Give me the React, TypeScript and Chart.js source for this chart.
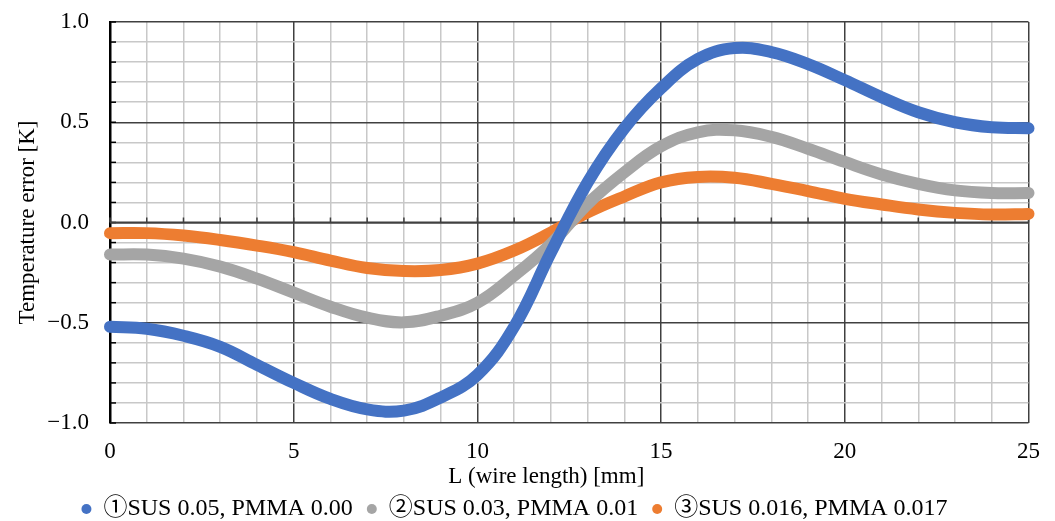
import React, { useEffect, useRef } from 'react';
import { Chart, registerables } from 'chart.js';

Chart.register(...registerables);

// ---- data ----
const xValues = [0, 1, 2, 3, 4, 5, 6, 7, 8, 9, 10, 11, 12, 13, 14, 15, 16, 17, 18, 19, 20, 21, 22, 23, 24, 25];

const series1 = [-0.52, -0.53, -0.565, -0.62, -0.71, -0.8, -0.88, -0.932, -0.938, -0.873, -0.76, -0.52, -0.15, 0.2, 0.47, 0.67, 0.815, 0.87, 0.85, 0.79, 0.71, 0.625, 0.55, 0.5, 0.475, 0.47];
const series2 = [-0.16, -0.16, -0.18, -0.22, -0.28, -0.35, -0.42, -0.475, -0.498, -0.465, -0.4, -0.265, -0.107, 0.093, 0.25, 0.38, 0.45, 0.46, 0.427, 0.368, 0.302, 0.24, 0.193, 0.16, 0.147, 0.147];
const series3 = [-0.053, -0.053, -0.065, -0.087, -0.115, -0.148, -0.19, -0.227, -0.242, -0.237, -0.205, -0.14, -0.05, 0.05, 0.13, 0.2, 0.227, 0.223, 0.193, 0.157, 0.118, 0.09, 0.065, 0.048, 0.04, 0.043];

const seriesNames = ['①SUS 0.05, PMMA 0.00', '②SUS 0.03, PMMA 0.01', '③SUS 0.016, PMMA 0.017'];
const seriesColors = ['#4472C4', '#A5A5A5', '#ED7D31'];

const xTickValues = [0, 5, 10, 15, 20, 25];
const xTickLabels = ['0', '5', '10', '15', '20', '25'];
const yTickValues = [-1, -0.5, 0, 0.5, 1];
const yTickLabels = ['−1.0', '−0.5', '0.0', '0.5', '1.0'];

const xTitle = 'L (wire length) [mm]';
const yTitle = 'Temperature error [K]';

const FONT = '"Liberation Serif", "Times New Roman", "Noto Sans CJK JP", serif';
const FS = 23;
const MAJOR = '#404040';
const MINOR = '#c8c8c8';

const near = (a: number, b: number) => Math.abs(a - b) < 1e-6;
const labelFor = (v: number, vals: number[], labels: string[]) => {
  const i = vals.findIndex((t) => near(t, v));
  return i >= 0 ? labels[i] : '';
};
const isMajorY = (v: number) => yTickValues.some((t) => near(t, v));
const isMajorX = (v: number) => xTickValues.some((t) => near(t, v));

const axisTicksPlugin = {
  id: 'axisTicks',
  beforeDatasetsDraw(chart: any) {
    const { ctx, scales } = chart;
    const x = scales.x;
    const y = scales.y;
    ctx.save();
    // inner tick marks on the vertical axis
    ctx.strokeStyle = '#000';
    ctx.lineWidth = 1.5;
    y.ticks.forEach((t: any) => {
      const py = y.getPixelForValue(t.value);
      ctx.beginPath();
      ctx.moveTo(x.left, py);
      ctx.lineTo(x.left + 6, py);
      ctx.stroke();
    });
    // horizontal axis crossing at 0 with tick marks
    const py0 = y.getPixelForValue(0);
    ctx.strokeStyle = MAJOR;
    ctx.lineWidth = 2;
    ctx.beginPath();
    ctx.moveTo(x.left, py0);
    ctx.lineTo(x.right, py0);
    ctx.stroke();
    ctx.lineWidth = 1.5;
    x.ticks.forEach((t: any) => {
      const px = x.getPixelForValue(t.value);
      ctx.beginPath();
      ctx.moveTo(px, py0);
      ctx.lineTo(px, py0 - 5);
      ctx.stroke();
    });
    ctx.restore();
  },
  afterDraw(chart: any) {
    // horizontal axis title (placed slightly left of the plot centre, as in the original)
    const { ctx, scales } = chart;
    const x = scales.x;
    ctx.save();
    ctx.fillStyle = '#000';
    ctx.font = `${FS}px ${FONT}`;
    ctx.textAlign = 'center';
    ctx.textBaseline = 'middle';
    ctx.fillText(xTitle, (x.left + x.right) / 2 - 23, x.top + 54);
    ctx.restore();
  },
};

export default function App() {
  const ref = useRef<HTMLCanvasElement>(null);

  useEffect(() => {
    if (!ref.current) return;
    const allSeries = [series1, series2, series3];
    const chart = new Chart(ref.current, {
      type: 'line',
      data: {
        datasets: allSeries.map((s, i) => ({
          label: seriesNames[i],
          data: xValues.map((xv, j) => ({ x: xv, y: s[j] })),
          borderColor: seriesColors[i],
          backgroundColor: seriesColors[i],
          pointBackgroundColor: seriesColors[i],
          pointBorderColor: seriesColors[i],
          pointBorderWidth: 0,
          borderWidth: 12,
          pointRadius: 0,
          pointHoverRadius: 0,
          borderCapStyle: 'round',
          borderJoinStyle: 'round',
          tension: 0.4,
          clip: false,
        })),
      },
      options: {
        animation: false,
        responsive: true,
        maintainAspectRatio: false,
        layout: { padding: { left: 0, right: 26, top: 22, bottom: -10 } },
        plugins: {
          tooltip: { enabled: false },
          legend: {
            position: 'bottom',
            labels: {
              usePointStyle: true,
              pointStyle: 'circle',
              pointStyleWidth: 10,
              boxHeight: 7,
              padding: 14,
              color: '#000',
              font: { family: FONT, size: 24 },
            },
          },
        },
        scales: {
          x: {
            type: 'linear',
            min: 0,
            max: 25,
            afterFit: (s: any) => { s.height = 60; },
            ticks: {
              stepSize: 1,
              autoSkip: false,
              maxRotation: 0,
              padding: 15,
              color: '#000',
              font: { family: FONT, size: FS },
              callback: (v: any) => labelFor(Number(v), xTickValues, xTickLabels),
            },
            grid: {
              drawTicks: false,
              color: (c: any) => (c.tick && isMajorX(c.tick.value) ? MAJOR : MINOR),
              lineWidth: 1.5,
            },
            border: { display: false },
            title: { display: false },
          },
          y: {
            type: 'linear',
            min: -1,
            max: 1,
            afterFit: (s: any) => { s.width = 110; },
            ticks: {
              stepSize: 0.1,
              autoSkip: false,
              padding: 0,
              color: '#000',
              font: { family: FONT, size: FS },
              callback: (v: any) => labelFor(Number(v), yTickValues, yTickLabels),
            },
            grid: {
              drawTicks: true,
              tickLength: 21,
              tickColor: 'rgba(0,0,0,0)',
              color: (c: any) => (c.tick && isMajorY(c.tick.value) ? MAJOR : MINOR),
              lineWidth: 1.5,
            },
            border: { display: true, color: '#000', width: 2.5 },
            title: {
              display: true,
              text: yTitle,
              color: '#000',
              font: { family: FONT, size: FS },
              padding: { top: 14, bottom: 0 },
            },
          },
        },
      } as any,
      plugins: [axisTicksPlugin],
    });
    return () => chart.destroy();
  }, []);

  return (
    <div style={{ position: 'fixed', left: 0, top: 0, width: 1055, height: 521, background: '#fff' }}>
      <canvas ref={ref} />
    </div>
  );
}
